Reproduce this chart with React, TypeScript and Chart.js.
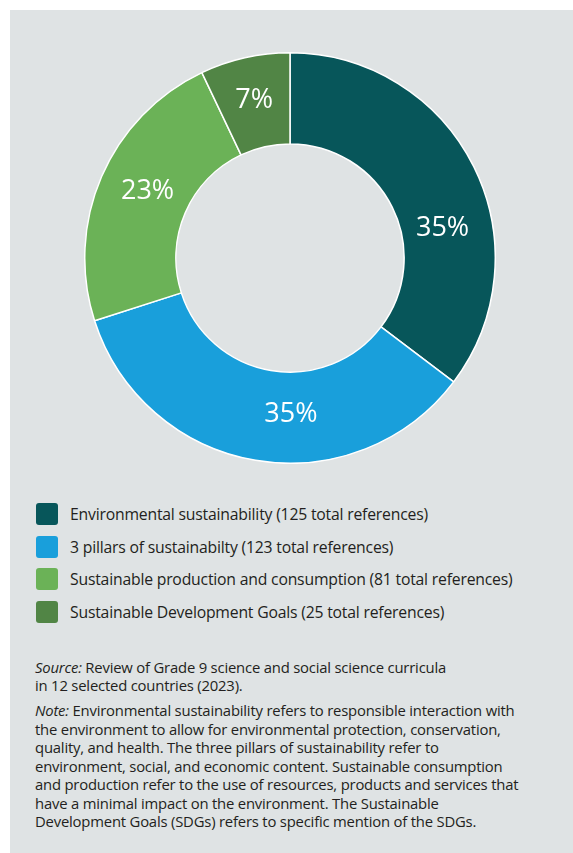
import React, { useEffect, useRef } from "react";
import { Chart, registerables } from "chart.js";

Chart.register(...registerables);

const categories = [
  "Environmental sustainability (125 total references)",
  "3 pillars of sustainabilty (123 total references)",
  "Sustainable production and consumption (81 total references)",
  "Sustainable Development Goals (25 total references)",
];
const references = [125, 123, 81, 25];
const colors = ["#07565a", "#199fdb", "#6bb257", "#518545"];

const sourceLines = [
  "Review of Grade 9 science and social science curricula",
  "in 12 selected countries (2023).",
];
const noteLines = [
  "Environmental sustainability refers to responsible interaction with",
  "the environment to allow for environmental protection, conservation,",
  "quality, and health. The three pillars of sustainability refer to",
  "environment, social, and economic content. Sustainable consumption",
  "and production refer to the use of resources, products and services that",
  "have a minimal impact on the environment. The Sustainable",
  "Development Goals (SDGs) refers to specific mention of the SDGs.",
];

const FONT = "'Open Sans', 'Noto Sans', sans-serif";
const TEXT = "#231f20";

// angular nudges (degrees) for the percentage labels
const labelShift = [15, -10, 2, 0];
const labelRadiusExtra = [-2, -2, 0, 5];

const pctLabels = {
  id: "pctLabels",
  afterDatasetsDraw(chart: any) {
    const ctx = chart.ctx;
    const meta = chart.getDatasetMeta(0);
    const data = chart.data.datasets[0].data as number[];
    const total = data.reduce((a, b) => a + b, 0);
    ctx.save();
    ctx.fillStyle = "#ffffff";
    ctx.font = `400 27px ${FONT}`;
    ctx.textAlign = "center";
    ctx.textBaseline = "middle";
    meta.data.forEach((arc: any, i: number) => {
      const p = arc.getProps(["x", "y", "startAngle", "endAngle", "innerRadius", "outerRadius"], true);
      const a = (p.startAngle + p.endAngle) / 2 + (labelShift[i] * Math.PI) / 180;
      const r = (p.innerRadius + p.outerRadius) / 2 - 2 + labelRadiusExtra[i];
      const txt = Math.round((data[i] / total) * 100) + "%";
      ctx.fillText(txt, p.x + r * Math.cos(a), p.y + r * Math.sin(a) + 1);
    });
    ctx.restore();
  },
};

function Donut() {
  const ref = useRef<HTMLCanvasElement | null>(null);
  useEffect(() => {
    if (!ref.current) return;
    const chart = new Chart(ref.current, {
      type: "doughnut",
      data: {
        labels: categories,
        datasets: [
          {
            data: references,
            backgroundColor: colors,
            borderColor: "#ffffff",
            borderWidth: 1.5,
          },
        ],
      },
      options: {
        responsive: false,
        animation: false,
        cutout: "55.6%",
        layout: { padding: 0 },
        plugins: {
          legend: { display: false },
          tooltip: { enabled: false },
          title: { display: false },
        },
      },
      plugins: [pctLabels],
    });
    return () => chart.destroy();
  }, []);
  return <canvas ref={ref} width={412} height={412} style={{ position: "absolute", left: 74, top: 42, width: 412, height: 412 }} />;
}

export default function App() {
  return (
    <div
      style={{
        position: "absolute",
        left: 10,
        top: 10,
        width: 563,
        height: 843,
        background: "#dfe3e4",
        fontFamily: FONT,
        color: TEXT,
      }}
    >
      <Donut />
      <div style={{ position: "absolute", left: 26, top: 487.7 }}>
        {categories.map((c, i) => (
          <div key={c} style={{ height: 32.6, display: "flex", alignItems: "center" }}>
            <div style={{ width: 22, height: 22, borderRadius: 3, background: colors[i], flex: "0 0 22px" }} />
            <div style={{ marginLeft: 12, fontSize: 15.75, letterSpacing: -0.2, whiteSpace: "nowrap" }}>{c}</div>
          </div>
        ))}
      </div>
      <div style={{ position: "absolute", left: 25, top: 647.75, fontSize: 14.85, lineHeight: "18.5px", letterSpacing: -0.2, whiteSpace: "nowrap" }}>
        <div>
          <i>Source:</i> {sourceLines[0]}
          <br />
          {sourceLines[1]}
        </div>
        <div style={{ marginTop: 6.5 }}>
          <i>Note:</i> {noteLines[0]}
          {noteLines.slice(1).map((l) => (
            <React.Fragment key={l}>
              <br />
              {l}
            </React.Fragment>
          ))}
        </div>
      </div>
    </div>
  );
}
